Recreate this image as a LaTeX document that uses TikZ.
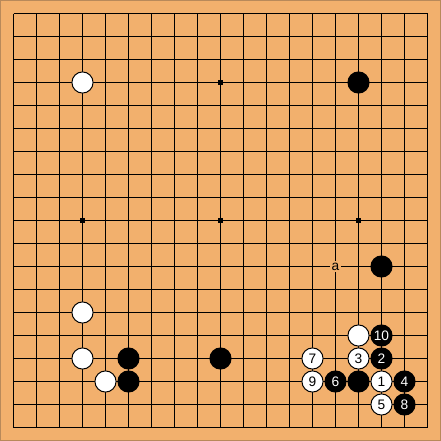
\documentclass[tikz,border=0pt]{standalone}
\usepackage{fontspec}
\setsansfont{Liberation Sans}
\definecolor{goboard}{HTML}{F2B06D}
\definecolor{boardedge}{HTML}{B8895A}

\begin{document}
\begin{tikzpicture}[x=0.5cm, y=-0.5cm, line width=0.6pt,
  every node/.style={circle, draw, inner sep=0pt, minimum size=0.46cm, font=\fontsize{8.5}{9}\selectfont\sffamily},
  blk/.style={fill=black, text=white},
  wht/.style={fill=white, text=black}]
  \useasboundingbox (-0.587,-0.587) rectangle (18.587,18.587);
  \fill[goboard] (-0.587,-0.587) rectangle (18.587,18.587);
  \draw[boardedge, line width=0.9pt] (-0.56,-0.56) rectangle (18.56,18.56);
  % grid
  \foreach \i in {0,...,18} {
    \draw (\i,0) -- (\i,18);
    \draw (0,\i) -- (18,\i);
  }
  % hoshi
  \foreach \x/\y in {3/3,3/9,3/15,9/3,9/9,9/15,15/3,15/9,15/15}
    \fill (\x-0.1,\y-0.1) rectangle (\x+0.1,\y+0.1);
  % label
  \node[draw=none, rectangle, fill=goboard, minimum size=0.24cm] (a) at (14,11) {a};
  % stones
  \node[wht] (w33) at (3,3) {};
  \node[wht] (w313) at (3,13) {};
  \node[wht] (w315) at (3,15) {};
  \node[wht] (w416) at (4,16) {};
  \node[wht] (w1514) at (15,14) {};
  \node[blk] (b153) at (15,3) {};
  \node[blk] (b1611) at (16,11) {};
  \node[blk] (b515) at (5,15) {};
  \node[blk] (b516) at (5,16) {};
  \node[blk] (b915) at (9,15) {};
  \node[blk] (b1516) at (15,16) {};
  % numbered moves
  \node[wht] (w1) at (16,16) {1};
  \node[blk] (b2) at (16,15) {2};
  \node[wht] (w3) at (15,15) {3};
  \node[blk] (b4) at (17,16) {4};
  \node[wht] (w5) at (16,17) {5};
  \node[blk] (b6) at (14,16) {6};
  \node[wht] (w7) at (13,15) {7};
  \node[blk] (b8) at (17,17) {8};
  \node[wht] (w9) at (13,16) {9};
  \node[blk] (b10) at (16,14) {10};
\end{tikzpicture}
\end{document}
